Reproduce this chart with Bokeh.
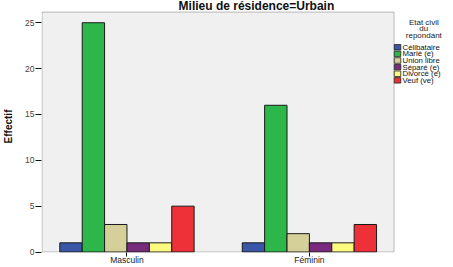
from bokeh.plotting import figure
from bokeh.models import Range1d, FixedTicker, Label, ColumnDataSource, BoxAnnotation
from bokeh.core.properties import value
from bokeh.embed import file_html
from bokeh.resources import INLINE

categories = ["Masculin", "Féminin"]
statuses = ["Célibataire", "Marié (e)", "Union libre", "Séparé (e)", "Divorcé (e)", "Veuf (ve)"]
masculin = [1, 25, 3, 1, 1, 5]
feminin = [1, 16, 2, 1, 1, 3]
colors = ["#3A56A6", "#2DB74B", "#D5D09A", "#7A2A7C", "#FCFB80", "#EE3039"]
y_ticks = [0, 5, 10, 15, 20, 25]
title_text = "Milieu de résidence=Urbain"
legend_title = ["Etat civil", "du", "repondant"]

FONT = "Liberation Sans"

# layout geometry (pixels)
W, H = 453, 267
FL, FB = 37, 255            # frame left, frame bottom (frame top = 0, right = W)
PPX, PPY = 184.2, 9.28      # pixels per data unit
X0 = 123.3                  # pixel of first category centre
x_start = -(X0 - FL) / PPX
x_end = x_start + (W - FL) / PPX
y_start = -0.5 / PPY
y_end = y_start + FB / PPY

def dx(px):
    return x_start + (px - FL) / PPX

def dy(py):
    return y_start + (FB - py) / PPY

bar_w = 22.6 / PPX

p = figure(width=W, height=H, output_backend="svg", toolbar_location=None,
           x_range=Range1d(x_start, x_end), y_range=Range1d(y_start, y_end),
           min_border_left=FL, min_border_right=0, min_border_top=0, min_border_bottom=H - FB)
p.background_fill_color = "white"
p.border_fill_color = "white"
p.outline_line_color = None
p.xgrid.visible = False
p.ygrid.visible = False

# plot area (grey panel with frame)
p.add_layout(BoxAnnotation(left=dx(37.5), right=dx(393), bottom=0, top=dy(11.7),
                           fill_color="#F0F0F0", fill_alpha=1,
                           line_color="#2a2a2a", line_width=1, level="underlay"))

for i, (s, c) in enumerate(zip(statuses, colors)):
    off = (i - 2.5) * bar_w
    src = ColumnDataSource(dict(x=[k + off for k in range(len(categories))],
                                top=[masculin[i], feminin[i]]))
    p.vbar(x="x", top="top", bottom=0, width=bar_w, source=src, fill_color=c,
           line_color="#1a1a1a", line_width=1)

p.xaxis.ticker = FixedTicker(ticks=list(range(len(categories))))
p.xaxis.major_label_overrides = {i: c for i, c in enumerate(categories)}
p.xaxis.minor_tick_line_color = None
p.xaxis.major_tick_in = 0
p.xaxis.major_tick_out = 4
p.xaxis.major_tick_line_color = "#111111"
p.xaxis.major_label_standoff = -2
p.xaxis.major_label_text_font = FONT
p.xaxis.major_label_text_font_size = "8.5px"
p.xaxis.major_label_text_color = "#222222"
p.xaxis.axis_line_color = None

p.yaxis.ticker = FixedTicker(ticks=y_ticks)
p.yaxis.minor_tick_line_color = None
p.yaxis.major_tick_in = 0
p.yaxis.major_tick_out = 6
p.yaxis.major_tick_line_color = "#111111"
p.yaxis.major_label_standoff = 1
p.yaxis.major_label_text_font = FONT
p.yaxis.major_label_text_font_size = "8.5px"
p.yaxis.major_label_text_color = "#444444"
p.yaxis.axis_line_color = None
p.yaxis.axis_label = "Effectif"
p.yaxis.axis_label_text_font = FONT
p.yaxis.axis_label_text_font_style = "bold"
p.yaxis.axis_label_text_font_size = "10px"
p.yaxis.axis_label_text_color = "#111111"
p.yaxis.axis_label_standoff = 8

# chart title
p.add_layout(Label(x=dx(254), y=dy(6), text=title_text, text_font=FONT,
                   text_font_style="bold", text_font_size="12px", text_color="#111111",
                   text_align="center", text_baseline="middle"))

# legend
for k, t in enumerate(legend_title):
    p.add_layout(Label(x=dx(423), y=dy(22.3 + 6.4 * k), text=t, text_font=FONT,
                       text_font_size="8px", text_color="#222222",
                       text_align="center", text_baseline="middle"))

ly = [dy(47.3 + 6.7 * i) for i in range(len(statuses))]
leg = ColumnDataSource(dict(x=[dx(396.5)] * len(statuses), tx=[dx(401.5)] * len(statuses),
                            y=ly, color=colors, label=statuses))
p.rect(x="x", y="y", width=6.5, height=5.5, width_units="screen", height_units="screen",
       fill_color="color", line_color="#222222", line_width=0.8, source=leg)
p.text(x="tx", y="y", text="label", source=leg, text_font=value(FONT),
       text_font_size="7.8px", text_color="#111111", text_align="left", text_baseline="middle")

open("out.html", "w").write(file_html(p, INLINE))
